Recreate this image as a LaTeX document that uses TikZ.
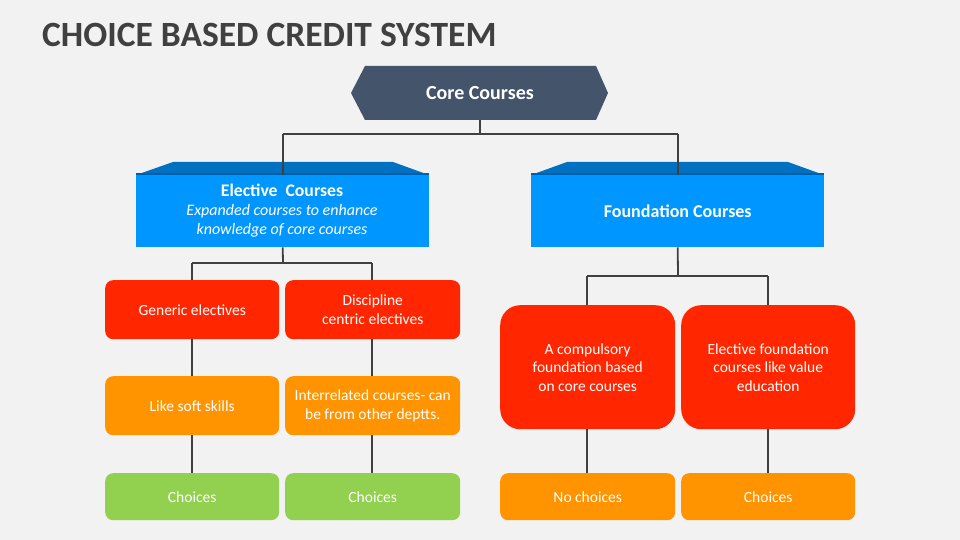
\documentclass[tikz,border=0pt]{standalone}
\usepackage{fontspec}
\setmainfont{Carlito}
\begin{document}
\begin{tikzpicture}[x=1pt,y=-1pt,
  conn/.style={draw=linegray,line width=1.8pt},
  txt/.style={text=white,font=\fontsize{15.5}{18.5}\selectfont,align=center},
  rbox/.style={fill=boxred,rounded corners=8pt,txt},
  obox/.style={fill=boxorange,rounded corners=8pt,txt},
  gbox/.style={fill=boxgreen,rounded corners=8pt,txt},
  bigred/.style={fill=boxred,rounded corners=20pt,txt},
  front/.style={fill=frontblue,txt},
  topband/.style={fill=topblue}]
\definecolor{bg}{HTML}{F2F2F2}
\definecolor{linegray}{HTML}{404040}
\definecolor{slate}{HTML}{44546A}
\definecolor{frontblue}{HTML}{0096FF}
\definecolor{topblue}{HTML}{0070C0}
\definecolor{bandshade}{HTML}{005FA8}
\definecolor{boxred}{HTML}{FF2600}
\definecolor{boxorange}{HTML}{FF9300}
\definecolor{boxgreen}{HTML}{92D050}
\fill[bg] (0,0) rectangle (960,540);
\useasboundingbox (0,0) rectangle (960,540);
\node[anchor=base west,text=linegray,font=\fontsize{35.5}{40}\bfseries\selectfont,inner sep=0] (title) at (42,47) {CHOICE BASED CREDIT SYSTEM};
\coordinate (j1) at (480,134);
\coordinate (j1l) at (283,134);
\coordinate (j1r) at (678,134);
\coordinate (j2) at (283,263);
\coordinate (j2l) at (192,263);
\coordinate (j2r) at (372,263);
\coordinate (j3) at (678,276);
\coordinate (j3l) at (587,276);
\coordinate (j3r) at (768,276);
% core hexagon
\fill[slate] (351,93) -- (365,66) -- (596,66) -- (608,93) -- (596,120) -- (365,120) -- cycle;
\node[minimum width=257pt,minimum height=54pt,inner sep=0,text=white,font=\fontsize{20}{22}\bfseries\selectfont] (core) at (480,93) {Core Courses};
% elective
\fill[topblue] (136,175) -- (173,162) -- (393,162) -- (429,175) -- cycle;
\fill[bandshade] (136,173) rectangle (429,175);
\node[front,minimum width=293pt,minimum height=72pt,inner sep=0,anchor=north west] (elec) at (136,175) {};
\node[txt,font=\fontsize{16}{19}\selectfont] (electxt) at (282,211) {{\fontsize{17.7}{19}\selectfont\bfseries Elective\ \ Courses}\\\textit{Expanded courses to enhance}\\\textit{knowledge of core courses}};
% foundation
\fill[topblue] (531,175) -- (567,162) -- (788,162) -- (824,175) -- cycle;
\fill[bandshade] (531,173) rectangle (824,175);
\node[front,minimum width=293pt,minimum height=72pt,inner sep=0,anchor=north west,font=\fontsize{18}{20}\bfseries\selectfont] (found) at (531,175) {Foundation Courses};
\draw[conn] (core.south) -- (j1);
\draw[conn] (j1l) -- (j1r);
\draw[conn] (j1l) -- (j1l |- elec.north);
\draw[conn] (j1r) -- (j1r |- found.north);
\draw[conn] (elec.south) -- (j2);
\draw[conn] (j2l) -- (j2r);
\draw[conn] (found.south) -- (j3);
\draw[conn] (j3l) -- (j3r);
% elective children
\node[rbox,minimum width=174pt,minimum height=59pt,inner sep=0,anchor=north west] (gen) at (105,280) {Generic electives};
\node[rbox,minimum width=175pt,minimum height=59pt,inner sep=0,anchor=north west] (disc) at (285,280) {Discipline\\centric electives};
\node[obox,minimum width=174pt,minimum height=59pt,inner sep=0,anchor=north west] (soft) at (105,376) {Like soft skills};
\node[obox,minimum width=175pt,minimum height=59pt,inner sep=0,anchor=north west] (inter) at (285,376) {Interrelated courses- can\\be from other deptts.};
\node[gbox,minimum width=174pt,minimum height=47pt,inner sep=0,anchor=north west] (ch1) at (105,473) {Choices};
\node[gbox,minimum width=175pt,minimum height=47pt,inner sep=0,anchor=north west] (ch2) at (285,473) {Choices};
% foundation children
\node[bigred,minimum width=175pt,minimum height=124pt,inner sep=0,anchor=north west] (comp) at (500,305) {A compulsory\\foundation based\\on core courses};
\node[bigred,minimum width=174pt,minimum height=124pt,inner sep=0,anchor=north west] (efound) at (681,305) {Elective foundation\\courses like value\\education};
\node[obox,minimum width=175pt,minimum height=47pt,inner sep=0,anchor=north west] (noch) at (500,473) {No choices};
\node[obox,minimum width=174pt,minimum height=47pt,inner sep=0,anchor=north west] (ch3) at (681,473) {Choices};
\draw[conn] (j2l) -- (j2l |- gen.north);
\draw[conn] (j2r) -- (j2r |- disc.north);
\draw[conn] (j2l |- gen.south) -- (j2l |- soft.north);
\draw[conn] (j2r |- disc.south) -- (j2r |- inter.north);
\draw[conn] (j2l |- soft.south) -- (j2l |- ch1.north);
\draw[conn] (j2r |- inter.south) -- (j2r |- ch2.north);
\draw[conn] (j3l) -- (j3l |- comp.north);
\draw[conn] (j3r) -- (j3r |- efound.north);
\draw[conn] (j3l |- comp.south) -- (j3l |- noch.north);
\draw[conn] (j3r |- efound.south) -- (j3r |- ch3.north);
\end{tikzpicture}
\end{document}
